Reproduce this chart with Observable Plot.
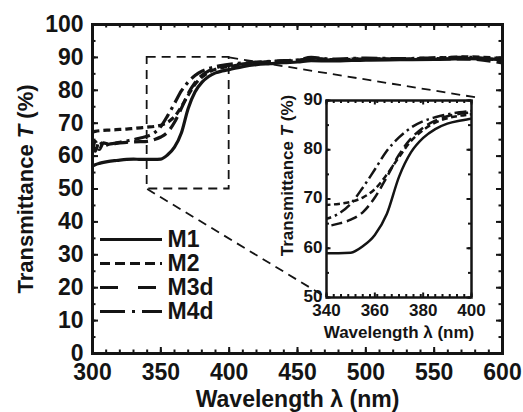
<!DOCTYPE html>
<html><head><meta charset="utf-8">
<script src="https://cdn.jsdelivr.net/npm/d3@7"></script>
<script src="https://cdn.jsdelivr.net/npm/@observablehq/plot@0.6"></script>
<style>
html,body{margin:0;padding:0;background:#fff;}
#wrap{position:relative;width:523px;height:412px;overflow:hidden;background:#fff;}
#wrap svg{position:absolute;max-width:none;}
</style></head><body><div id="wrap"></div>
<script>
// ---- data ----
const wavelength = [300, 302, 305, 308, 312, 316, 320, 325, 330, 335, 340, 345, 350, 355, 360, 365, 370, 375, 380, 385, 390, 395, 400, 410, 420, 430, 440, 450, 460, 475, 500, 525, 550, 575, 600];
const M1  = [57.0, 57.4, 57.8, 58.1, 58.4, 58.6, 58.8, 59.0, 59.1, 59.0, 59.0, 59.0, 59.1, 60.4, 62.7, 67.0, 74.5, 79.5, 82.4, 84.2, 85.3, 85.9, 86.3, 87.2, 87.8, 88.1, 88.4, 88.6, 89.0, 88.9, 89.2, 89.3, 89.4, 89.6, 89.3];
const M2  = [67.3, 67.5, 67.7, 67.8, 67.9, 68.0, 68.1, 68.2, 68.4, 68.6, 68.8, 69.0, 69.4, 70.3, 72.0, 75.0, 78.5, 81.8, 84.0, 85.5, 86.4, 86.9, 87.2, 87.9, 88.3, 88.6, 88.9, 89.0, 89.8, 89.3, 89.6, 89.5, 89.8, 90.2, 89.6];
const M3d = [61.0, 64.5, 62.0, 64.0, 63.6, 63.8, 64.0, 64.2, 64.3, 64.4, 64.5, 65.0, 65.8, 67.3, 70.3, 74.5, 79.0, 82.3, 84.5, 85.9, 86.8, 87.3, 87.6, 88.0, 88.4, 88.7, 88.9, 89.1, 89.6, 89.2, 89.5, 89.4, 89.6, 89.5, 88.3];
const M4d = [64.0, 61.5, 64.5, 63.0, 63.6, 63.9, 64.2, 64.6, 65.0, 65.5, 66.0, 67.0, 69.0, 72.3, 76.0, 79.8, 82.5, 84.5, 85.8, 86.6, 87.2, 87.6, 87.9, 88.3, 88.6, 88.8, 89.0, 89.2, 90.0, 89.5, 89.8, 89.6, 89.9, 90.0, 89.0];
const seriesNames = ["M1", "M2", "M3d", "M4d"];
const seriesValues = [M1, M2, M3d, M4d];

const xTicksMain = [300, 350, 400, 450, 500, 550, 600];
const yTicksMain = [0, 10, 20, 30, 40, 50, 60, 70, 80, 90, 100];
const xTicksInset = [340, 360, 380, 400];
const yTicksInset = [50, 60, 70, 80, 90];
const zoomBox = [{x1: 340, x2: 400, y1: 50, y2: 90}];
const connectors = [{x1: 400, y1: 90, x2: 581.5, y2: 77.8}, {x1: 340, y1: 50, x2: 471.2, y2: 17.0}];

const xLabel = "Wavelength λ (nm)";
const yLabel = "Transmittance T (%)";

// ---- styles ----
const FONT = "'Liberation Sans', Arial, Helvetica, sans-serif";
const INK = "#141414";
const curveDash = {M1: null, M2: "7,4", M3d: "14,6", M4d: "16,5,3,5"};
const insetDash = {M1: null, M2: "6,3.5", M3d: "11,5", M4d: "12,4,2.5,4"};
const legendDash = {M1: null, M2: "10,5", M3d: "18,20", M4d: "25,7,3,7"};

const table = wavelength.flatMap((w, i) => seriesNames.map((s, j) => ({wl: w, T: seriesValues[j][i], s})));

function italicT(svg) {
  svg.querySelectorAll("text").forEach(t => {
    if (t.textContent === yLabel) {
      t.textContent = "";
      for (const [s, st] of [["Transmittance ", null], ["T", "italic"], [" (%)", null]]) {
        const ts = document.createElementNS("http://www.w3.org/2000/svg", "tspan");
        ts.textContent = s;
        if (st) ts.setAttribute("font-style", st);
        t.appendChild(ts);
      }
    }
  });
}

function frameTicks(xMaj, xMin, yMaj, yMin, pw, ph, lMaj, lMin, sw) {
  const o = {stroke: INK, strokeWidth: sw};
  return [
    Plot.tickX(xMin, {x: d => d, insetTop: ph - lMin, ...o}),
    Plot.tickX(xMin, {x: d => d, insetBottom: ph - lMin, ...o}),
    Plot.tickX(xMaj, {x: d => d, insetTop: ph - lMaj, ...o}),
    Plot.tickX(xMaj, {x: d => d, insetBottom: ph - lMaj, ...o}),
    Plot.tickY(yMin, {y: d => d, insetRight: pw - lMin, ...o}),
    Plot.tickY(yMin, {y: d => d, insetLeft: pw - lMin, ...o}),
    Plot.tickY(yMaj, {y: d => d, insetRight: pw - lMaj, ...o}),
    Plot.tickY(yMaj, {y: d => d, insetLeft: pw - lMaj, ...o})
  ];
}

const wrap = document.getElementById("wrap");

// ---- main chart ----
{
  const W = 523, H = 412, mL = 92, mR = 21, mT = 24, mB = 59;
  const pw = W - mL - mR, ph = H - mT - mB;
  const chart = Plot.plot({
    width: W, height: H, marginLeft: mL, marginRight: mR, marginTop: mT, marginBottom: mB,
    x: {domain: [300, 600], axis: null},
    y: {domain: [0, 100], axis: null},
    style: {fontFamily: FONT, fontWeight: "bold", background: "transparent", color: INK},
    marks: [
      Plot.rect(zoomBox, {x1: "x1", x2: "x2", y1: "y1", y2: "y2", fill: "none", stroke: INK, strokeWidth: 1.8, strokeDasharray: "9,6"}),
      Plot.link(connectors, {x1: "x1", y1: "y1", x2: "x2", y2: "y2", stroke: INK, strokeWidth: 1.8, strokeDasharray: "9,6"}),
      ...seriesNames.map(name => Plot.line(table.filter(d => d.s === name), {
        x: "wl", y: "T", stroke: INK, strokeWidth: 3.2, curve: "monotone-x",
        strokeDasharray: curveDash[name], strokeLinecap: "butt"
      })),
      ...frameTicks(xTicksMain, d3.range(300, 601, 10), yTicksMain, d3.range(0, 101, 5), pw, ph, 6, 3.5, 2),
      Plot.frame({stroke: INK, strokeWidth: 3}),
      Plot.text(xTicksMain, {x: d => d, text: d => String(d), frameAnchor: "bottom", dy: 19, lineAnchor: "middle", fontSize: 23, fontWeight: "bold"}),
      Plot.text(yTicksMain, {y: d => d, text: d => String(d), frameAnchor: "left", textAnchor: "end", dx: -9, lineAnchor: "middle", fontSize: 23, fontWeight: "bold"}),
      Plot.text([xLabel], {text: d => d, frameAnchor: "bottom", dy: 46, lineAnchor: "middle", fontSize: 23, fontWeight: "bold"}),
      Plot.text([yLabel], {text: d => d, frameAnchor: "left", textAnchor: "middle", dx: -67, rotate: -90, lineAnchor: "middle", fontSize: 22, fontWeight: "bold"})
    ]
  });
  chart.style.left = "0px"; chart.style.top = "0px";
  italicT(chart);
  wrap.appendChild(chart);
}

// ---- legend ----
{
  const legend = Plot.plot({
    width: 140, height: 140, marginLeft: 5, marginRight: 73, marginTop: 0, marginBottom: 0,
    x: {domain: [0, 1], axis: null},
    y: {type: "point", domain: seriesNames, range: [22, 118], axis: null},
    style: {fontFamily: FONT, fontWeight: "bold", background: "transparent", color: INK, overflow: "visible"},
    marks: [
      ...seriesNames.map(name => Plot.ruleY([name], {y: d => d, stroke: INK, strokeWidth: 3, strokeDasharray: legendDash[name]})),
      Plot.text(seriesNames, {y: d => d, text: d => d, frameAnchor: "right", textAnchor: "start", dx: 5, lineAnchor: "middle", fontSize: 23, fontWeight: "bold"})
    ]
  });
  legend.style.left = "95px"; legend.style.top = "205px";
  wrap.appendChild(legend);
}

// ---- inset ----
{
  const W = 226, H = 258, mL = 64, mR = 17, mT = 12, mB = 49;
  const pw = W - mL - mR, ph = H - mT - mB;
  const inset = Plot.plot({
    width: W, height: H, marginLeft: mL, marginRight: mR, marginTop: mT, marginBottom: mB,
    x: {domain: [340, 400], axis: null},
    y: {domain: [50, 90], axis: null},
    style: {fontFamily: FONT, fontWeight: "bold", background: "transparent", color: INK, overflow: "visible"},
    marks: [
      ...seriesNames.map(name => Plot.line(table.filter(d => d.s === name), {
        x: "wl", y: "T", stroke: INK, strokeWidth: 2.5, curve: "monotone-x", clip: true,
        strokeDasharray: insetDash[name], strokeLinecap: "butt"
      })),
      ...frameTicks(xTicksInset, d3.range(340, 400.1, 3), yTicksInset, d3.range(50, 90.1, 5), pw, ph, 4.5, 3, 2),
      Plot.frame({stroke: INK, strokeWidth: 2.5}),
      Plot.text(xTicksInset, {x: d => d, text: d => String(d), frameAnchor: "bottom", dy: 13, lineAnchor: "middle", fontSize: 17, fontWeight: "bold"}),
      Plot.text(yTicksInset, {y: d => d, text: d => String(d), frameAnchor: "left", textAnchor: "end", dx: -4, dy: -1, lineAnchor: "middle", fontSize: 17, fontWeight: "bold"}),
      Plot.text([xLabel], {text: d => d, frameAnchor: "bottom", dy: 35, lineAnchor: "middle", fontSize: 17, fontWeight: "bold"}),
      Plot.text([yLabel], {text: d => d, frameAnchor: "left", textAnchor: "middle", dx: -39, dy: -23.5, rotate: -90, lineAnchor: "middle", fontSize: 17, fontWeight: "bold"})
    ]
  });
  inset.style.left = "262px"; inset.style.top = "88px";
  italicT(inset);
  wrap.appendChild(inset);
}
</script></body></html>
